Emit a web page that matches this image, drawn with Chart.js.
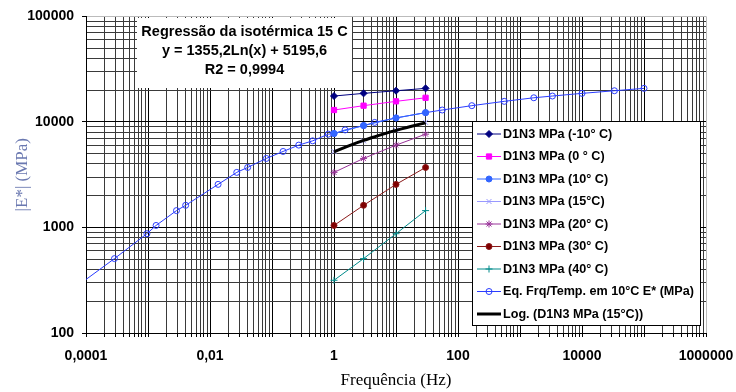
<!DOCTYPE html>
<html><head><meta charset="utf-8">
<script src="https://cdn.jsdelivr.net/npm/chart.js@4.4.1/dist/chart.umd.min.js"></script>
<style>html,body{margin:0;padding:0;background:#fff}#wrap{width:736px;height:392px;position:relative}</style>
</head><body><div id="wrap"><canvas id="c" width="736" height="392"></canvas></div>
<script>
// ---------- data ----------
const freq = [1, 3, 10, 30];
const eMinus10 = [17600, 18650, 19750, 20800];
const e0 = [12970, 14260, 15670, 16940];
const e10 = [7760, 9230, 10910, 12250];
const e15 = [5250, 6620, 8400, 9900];
const e20 = [3325, 4510, 6030, 7660];
const e30 = [1045, 1622, 2560, 3705];
const e40 = [316, 507, 873, 1445];
const masterFreq = [0.000096, 0.000288, 0.00096, 0.00135, 0.00288, 0.00405, 0.0135, 0.027, 0.0405, 0.081, 0.151, 0.27, 0.453, 0.81, 1, 1.51, 3, 4.53, 10, 30, 55.7, 167, 557, 1671, 3333, 10000, 33330, 100000];
const masterE = [316, 507, 873, 1045, 1445, 1622, 2560, 3325, 3705, 4510, 5250, 6030, 6620, 7660, 7760, 8400, 9230, 9900, 10910, 12250, 12970, 14260, 15670, 16940, 17600, 18650, 19750, 20800];
const trendFreq = [1, 1.5, 2, 3, 4, 5, 7, 10, 15, 20, 30];
const trendE = [5196, 5745, 6135, 6684, 7074, 7377, 7833, 8316, 8866, 9255, 9805];
const seriesNames = ['D1N3 MPa (-10° C)', 'D1N3 MPa (0 ° C)', 'D1N3 MPa (10° C)', 'D1N3 MPa (15°C)', 'D1N3 MPa (20° C)', 'D1N3 MPa (30° C)', 'D1N3 MPa (40° C)', 'Eq. Frq/Temp. em 10°C E* (MPa)', 'Log. (D1N3 MPa (15°C))'];
const xTickLabels = ['0,0001', '0,01', '1', '100', '10000', '1000000'];
const yTickLabels = ['100', '1000', '10000', '100000'];
const regressionText = ['Regressão da isotérmica 15 C', 'y = 1355,2Ln(x) + 5195,6', 'R2 = 0,9994'];
const xTitle = 'Frequência (Hz)';
const yTitle = '|E*| (MPa)';

// ---------- helpers ----------
const pts = (xs, ys) => xs.map((x, i) => ({x: x, y: ys[i]}));
function logGrid(fromExp, toExp) {
  const out = [];
  for (let k = fromExp; k < toExp; k++) for (let m = 1; m <= 9; m++) out.push(Number((m * Math.pow(10, k)).toPrecision(12)));
  out.push(Math.pow(10, toExp));
  return out;
}
const xGrid = logGrid(-4, 6);
const yGrid = logGrid(2, 5);
const lv = s => parseFloat(s.replace(',', '.'));
const isPow10 = v => Math.abs(Math.log10(v) - Math.round(Math.log10(v))) < 1e-9;
function labelFor(v, labels) {
  const f = labels.find(l => Math.abs(Math.log10(lv(l)) - Math.log10(v)) < 1e-9);
  return f || '';
}
const SANS = '"Liberation Sans", Arial, Helvetica, sans-serif';
const SERIF = '"Liberation Serif", "Times New Roman", serif';

const styles = [
  {c: '#000080', bg: '#000080', ps: 'rectRot', r: 3.5},
  {c: '#ff00ff', bg: '#ff00ff', ps: 'rect', r: 3.7},
  {c: '#3366ff', bg: '#3366ff', ps: 'circle', r: 3},
  {c: '#9999ff', bg: '#9999ff', ps: 'crossRot', r: 3.5},
  {c: '#993399', bg: '#993399', ps: 'star', r: 3.5},
  {c: '#8b1a1a', bg: '#800000', ps: 'circle', r: 3},
  {c: '#008b8b', bg: '#008b8b', ps: 'cross', r: 3.5},
  {c: '#2a3cff', bg: 'rgba(255,255,255,0)', ps: 'circle', r: 3},
  {c: '#000000', bg: '#000000', ps: false, r: 0}
];
const seriesData = [pts(freq, eMinus10), pts(freq, e0), pts(freq, e10), pts(freq, e15), pts(freq, e20), pts(freq, e30), pts(freq, e40), pts(masterFreq, masterE), pts(trendFreq, trendE)];

const datasets = seriesData.map((d, i) => {
  const s = styles[i];
  return {
    label: seriesNames[i],
    data: d,
    borderColor: s.c,
    backgroundColor: s.bg,
    pointBackgroundColor: s.bg,
    pointBorderColor: s.c,
    pointStyle: s.ps || 'circle',
    pointRadius: i === 7 ? (ctx => (ctx.raw && ctx.raw.x < 1e-4) ? 0 : s.r) : s.r,
    pointBorderWidth: 1,
    borderWidth: i === 8 ? 3 : 1,
    tension: i === 8 ? 0.4 : 0,
    fill: false,
    order: i === 8 ? -1 : (i === 7 ? 1 : 0),
    _legendR: s.r,
    _legendStyle: s.ps
  };
});

// ---------- plugins ----------
const overlayPlugin = {
  id: 'overlay',
  afterDatasetsDraw(chart) {
    const ctx = chart.ctx;
    ctx.save();
    // regression text box
    ctx.fillStyle = '#fff';
    ctx.fillRect(137, 18, 215, 70);
    ctx.fillStyle = '#000';
    ctx.font = 'bold 14.5px ' + SANS;
    ctx.textAlign = 'center';
    ctx.textBaseline = 'alphabetic';
    const baselines = [36, 55, 74];
    regressionText.forEach((t, i) => ctx.fillText(t, 244.5, baselines[i]));
    // legend box
    const bx = 472.5, by = 121.5, bw = 228, bh = 204;
    ctx.fillStyle = '#fff';
    ctx.fillRect(bx, by, bw, bh);
    ctx.strokeStyle = '#000';
    ctx.lineWidth = 1;
    ctx.strokeRect(bx, by, bw, bh);
    ctx.textAlign = 'left';
    ctx.textBaseline = 'middle';
    chart.data.datasets.forEach((ds, i) => {
      const y = 134 + i * 22.5;
      ctx.strokeStyle = ds.borderColor;
      ctx.lineWidth = ds.borderWidth;
      ctx.beginPath();
      ctx.moveTo(477, y);
      ctx.lineTo(501, y);
      ctx.stroke();
      if (ds._legendStyle) {
        ctx.fillStyle = ds.pointBackgroundColor;
        ctx.strokeStyle = ds.pointBorderColor;
        ctx.lineWidth = 1;
        Chart.helpers.drawPoint(ctx, {pointStyle: ds._legendStyle, radius: ds._legendR, rotation: 0, borderWidth: 1}, 489, y);
      }
      ctx.fillStyle = '#000';
      ctx.font = 'bold 12.6px ' + SANS;
      ctx.fillText(ds.label, 503, y + 0.5);
    });
    ctx.restore();
  }
};

// ---------- chart ----------
new Chart(document.getElementById('c'), {
  type: 'line',
  data: {datasets: datasets},
  options: {
    responsive: false,
    animation: false,
    devicePixelRatio: 1,
    layout: {padding: {left: 0, top: 15, right: 30, bottom: 0}},
    plugins: {legend: {display: false}, tooltip: {enabled: false}},
    scales: {
      x: {
        type: 'logarithmic', min: 1e-4, max: 1e6, position: 'bottom',
        afterBuildTicks: s => { s.ticks = xGrid.map(v => ({value: v})); },
        afterFit: s => { s.height = 59; s.paddingLeft = 0; s.paddingRight = 0; },
        ticks: {autoSkip: false, maxRotation: 0, minRotation: 0, padding: 11, color: '#000',
          font: {family: SANS, size: 14, weight: 'bold'},
          callback: v => labelFor(v, xTickLabels)},
        grid: {
          color: c => (c.tick && Math.abs(c.tick.value - 1e6) < 1) ? '#bbbbbb' : (c.tick && isPow10(c.tick.value) ? '#000' : '#3a3a3a'),
          lineWidth: 1, tickLength: 4, drawTicks: true, tickColor: '#000'
        },
        border: {color: '#000', width: 1},
        title: {display: true, text: xTitle, color: '#000', font: {family: SERIF, size: 17}, padding: {top: 0, bottom: 1}}
      },
      y: {
        type: 'logarithmic', min: 100, max: 1e5,
        afterBuildTicks: s => { s.ticks = yGrid.map(v => ({value: v})); },
        afterFit: s => { s.width = 86; },
        ticks: {autoSkip: false, padding: 8, color: '#000',
          font: {family: SANS, size: 14, weight: 'bold'},
          callback: v => labelFor(v, yTickLabels)},
        grid: {
          color: c => (c.tick && Math.abs(c.tick.value - 1e5) < 1) ? '#bbbbbb' : (c.tick && isPow10(c.tick.value) ? '#000' : '#3a3a3a'),
          lineWidth: 1, tickLength: 4, drawTicks: true,
          tickColor: c => (c.tick && isPow10(c.tick.value)) ? '#000' : 'rgba(0,0,0,0)'
        },
        border: {color: '#000', width: 1},
        title: {display: true, text: yTitle, color: '#6a78b0', font: {family: SERIF, size: 17}, padding: {top: 12, bottom: 0}}
      }
    }
  },
  plugins: [overlayPlugin]
});
</script>
</body></html>
